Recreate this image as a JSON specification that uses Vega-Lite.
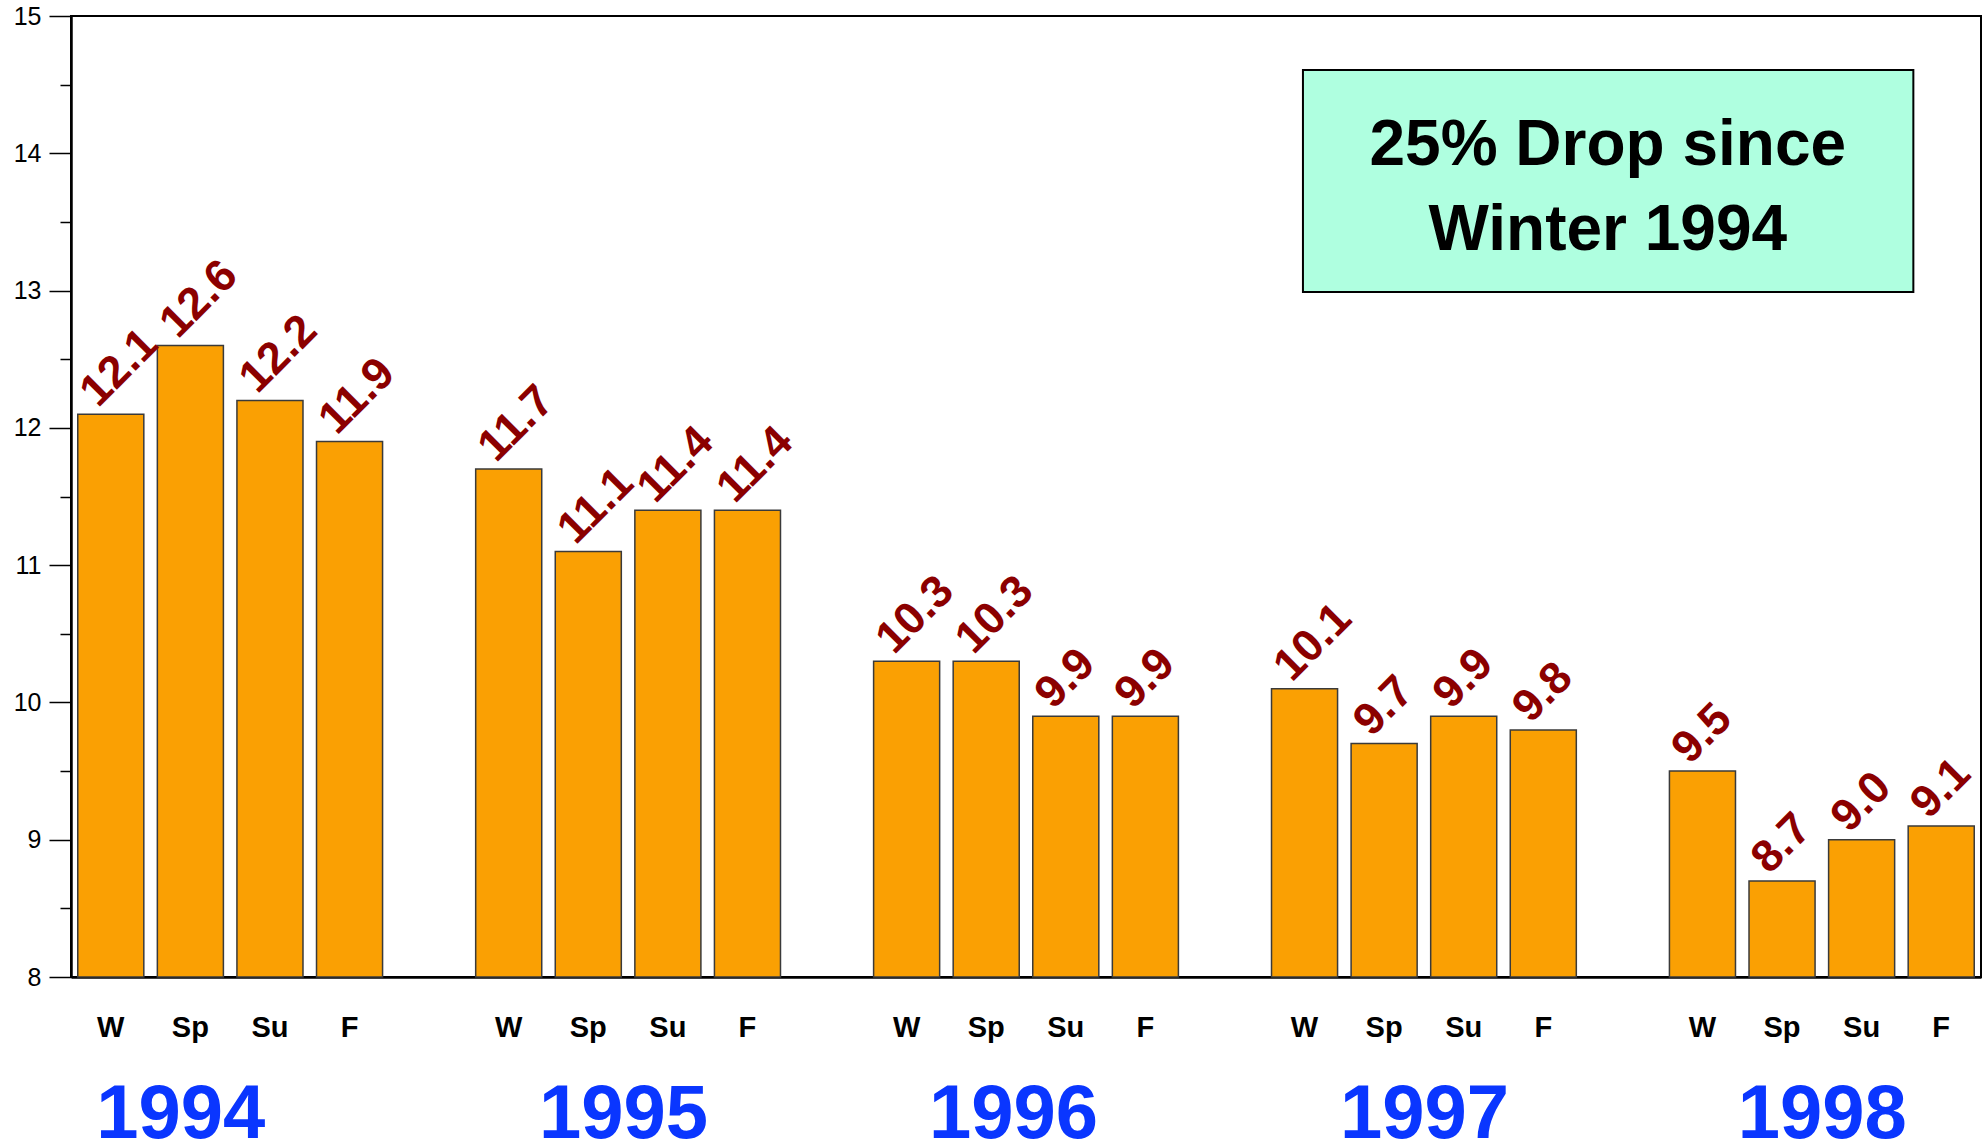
{
  "$schema": "https://vega.github.io/schema/vega-lite/v6.json",
  "width": 1910,
  "height": 961,
  "autosize": {"type": "none"},
  "padding": {"left": 71, "top": 16, "right": 3, "bottom": 164},
  "background": "white",
  "config": {
    "view": {"stroke": "black", "strokeWidth": 2},
    "font": "Liberation Sans"
  },
  "data": {
    "values": [
      {"year": "1994", "season": "W", "slot": "1994-W", "value": 12.1},
      {"year": "1994", "season": "Sp", "slot": "1994-Sp", "value": 12.6},
      {"year": "1994", "season": "Su", "slot": "1994-Su", "value": 12.2},
      {"year": "1994", "season": "F", "slot": "1994-F", "value": 11.9},
      {"year": "1995", "season": "W", "slot": "1995-W", "value": 11.7},
      {"year": "1995", "season": "Sp", "slot": "1995-Sp", "value": 11.1},
      {"year": "1995", "season": "Su", "slot": "1995-Su", "value": 11.4},
      {"year": "1995", "season": "F", "slot": "1995-F", "value": 11.4},
      {"year": "1996", "season": "W", "slot": "1996-W", "value": 10.3},
      {"year": "1996", "season": "Sp", "slot": "1996-Sp", "value": 10.3},
      {"year": "1996", "season": "Su", "slot": "1996-Su", "value": 9.9},
      {"year": "1996", "season": "F", "slot": "1996-F", "value": 9.9},
      {"year": "1997", "season": "W", "slot": "1997-W", "value": 10.1},
      {"year": "1997", "season": "Sp", "slot": "1997-Sp", "value": 9.7},
      {"year": "1997", "season": "Su", "slot": "1997-Su", "value": 9.9},
      {"year": "1997", "season": "F", "slot": "1997-F", "value": 9.8},
      {"year": "1998", "season": "W", "slot": "1998-W", "value": 9.5},
      {"year": "1998", "season": "Sp", "slot": "1998-Sp", "value": 8.7},
      {"year": "1998", "season": "Su", "slot": "1998-Su", "value": 9.0},
      {"year": "1998", "season": "F", "slot": "1998-F", "value": 9.1}
    ]
  },
  "layer": [
    {
      "encoding": {
        "x": {
          "field": "slot",
          "type": "nominal",
          "sort": null,
          "scale": {
            "type": "band",
            "domain": ["1994-W","1994-Sp","1994-Su","1994-F","g1","1995-W","1995-Sp","1995-Su","1995-F","g2","1996-W","1996-Sp","1996-Su","1996-F","g3","1997-W","1997-Sp","1997-Su","1997-F","g4","1998-W","1998-Sp","1998-Su","1998-F"],
            "paddingInner": 0.17,
            "paddingOuter": 0.085
          },
          "axis": {
            "orient": "bottom",
            "title": null,
            "ticks": false,
            "labelExpr": "indexof(datum.value, '-') > 0 ? split(datum.value, '-')[1] : ''",
            "labelFont": "Liberation Sans",
            "labelFontSize": 29,
            "labelFontWeight": "bold",
            "labelColor": "black",
            "labelPadding": 36,
            "labelAngle": 0,
            "domainColor": "black",
            "domainWidth": 2.5,
            "grid": false
          }
        },
        "y": {
          "field": "value",
          "type": "quantitative",
          "scale": {"domain": [8, 15], "nice": false, "zero": false},
          "axis": {
            "orient": "left",
            "title": null,
            "values": [8, 9, 10, 11, 12, 13, 14, 15],
            "tickSize": 22,
            "tickWidth": 1.5,
            "tickColor": "black",
            "labelPadding": 8,
            "labelFont": "Liberation Sans",
            "labelFontSize": 25,
            "labelColor": "black",
            "domainColor": "black",
            "domainWidth": 2.5,
            "grid": false
          }
        }
      },
      "layer": [
        {
          "mark": {"type": "bar", "color": "#FAA003", "stroke": "#3a3a3a", "strokeWidth": 1.5},
          "encoding": {
            "y2": {"datum": 8}
          }
        },
        {
          "mark": {
            "type": "text",
            "angle": 315,
            "align": "left",
            "baseline": "alphabetic",
            "dx": -5,
            "dy": -13,
            "font": "Liberation Sans",
            "fontSize": 45,
            "fontWeight": "bold",
            "color": "#8B0000"
          },
          "encoding": {
            "text": {"field": "value", "type": "quantitative", "format": ".1f"}
          }
        }
      ]
    },
    {
      "mark": {"type": "point", "opacity": 0},
      "encoding": {
        "x": {
          "field": "year",
          "type": "nominal",
          "sort": null,
          "scale": {"type": "point", "padding": 0.4},
          "axis": {
            "orient": "bottom",
            "title": null,
            "ticks": false,
            "domain": false,
            "grid": false,
            "labelAngle": 0,
            "labelPadding": 100,
            "labelOffset": {
              "condition": [
                {"test": "datum.value == '1994'", "value": -50},
                {"test": "datum.value == '1995'", "value": -5},
                {"test": "datum.value == '1996'", "value": -13}
              ],
              "value": 0
            },
            "labelFont": "Liberation Sans",
            "labelFontSize": 76,
            "labelFontWeight": "bold",
            "labelColor": "#0A36FF"
          }
        },
        "y": {
          "field": "value",
          "type": "quantitative",
          "scale": {"domain": [8, 15], "nice": false, "zero": false},
          "axis": {
            "orient": "left",
            "title": null,
            "values": [8.5, 9.5, 10.5, 11.5, 12.5, 13.5, 14.5],
            "labels": false,
            "domain": false,
            "grid": false,
            "tickSize": 11,
            "tickWidth": 1.5,
            "tickColor": "black"
          }
        }
      }
    },
    {
      "data": {"values": [{"line": "box"}]},
      "layer": [
        {
          "mark": {"type": "rect", "fill": "#AFFFE0", "stroke": "black", "strokeWidth": 2},
          "encoding": {
            "x": {"datum": 15.48, "type": "quantitative", "scale": {"domain": [0, 24], "nice": false, "zero": false}, "axis": null},
            "x2": {"datum": 23.15},
            "y": {"datum": 14.607, "type": "quantitative", "scale": {"domain": [8, 15], "nice": false, "zero": false}, "axis": null},
            "y2": {"datum": 12.99}
          }
        },
        {
          "mark": {
            "type": "text",
            "text": ["25% Drop since", "Winter 1994"],
            "lineHeight": 85,
            "align": "center",
            "baseline": "middle",
            "font": "Liberation Sans",
            "fontSize": 64,
            "fontWeight": "bold",
            "color": "black"
          },
          "encoding": {
            "x": {"datum": 19.31, "type": "quantitative", "scale": {"domain": [0, 24], "nice": false, "zero": false}, "axis": null},
            "y": {"datum": 14.053, "type": "quantitative", "scale": {"domain": [8, 15], "nice": false, "zero": false}, "axis": null}
          }
        }
      ]
    }
  ],
  "resolve": {
    "scale": {"x": "independent"},
    "axis": {"x": "independent", "y": "independent"}
  }
}
